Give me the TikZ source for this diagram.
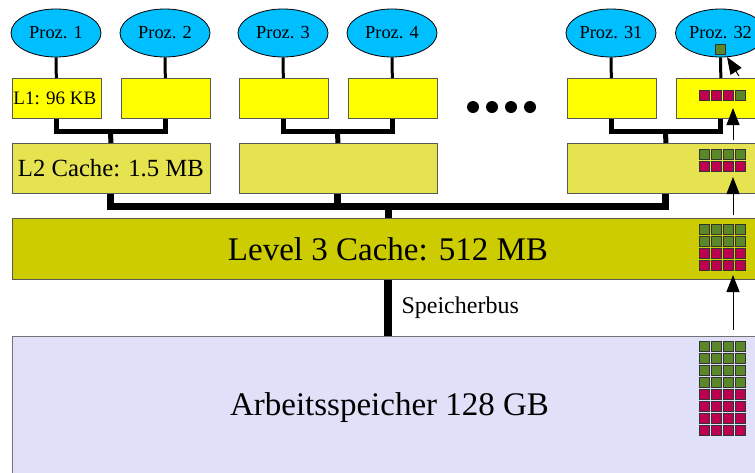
\documentclass[tikz,border=0pt]{standalone}
\usepackage{fontspec}
\setmainfont{Liberation Serif}
\usetikzlibrary{shapes.geometric,arrows.meta}
\definecolor{prozc}{RGB}{0,191,255}
\definecolor{lonec}{RGB}{255,255,0}
\definecolor{ltwoc}{RGB}{230,227,80}
\definecolor{lthreec}{RGB}{204,204,0}
\definecolor{memc}{RGB}{224,224,248}
\definecolor{sqg}{RGB}{90,135,40}
\definecolor{sqr}{RGB}{190,0,80}
\begin{document}
\begin{tikzpicture}[x=1pt,y=-1pt,
  proc/.style={ellipse,draw=black,line width=0.8pt,fill=prozc,minimum width=90pt,minimum height=48pt,inner sep=0pt,font=\fontsize{18.4}{20}\selectfont},
  boxone/.style={draw=black!65,line width=0.8pt,fill=lonec,minimum width=89pt,minimum height=40pt,inner sep=0pt,anchor=north west,font=\fontsize{19}{21}\selectfont},
  boxtwo/.style={draw=black!65,line width=0.8pt,fill=ltwoc,minimum width=198pt,minimum height=50pt,inner sep=0pt,anchor=north west,font=\fontsize{24.7}{27}\selectfont},
  boxthree/.style={draw=black!65,line width=0.8pt,fill=lthreec,minimum width=758pt,minimum height=61pt,inner sep=0pt,anchor=north west,font=\fontsize{33}{36}\selectfont},
  boxmem/.style={draw=black!55,line width=0.8pt,fill=memc,minimum width=758pt,minimum height=150pt,inner sep=0pt,anchor=north west},
  thinconn/.style={line width=3pt,draw=black},
  busone/.style={line width=5pt,draw=black},
  bustwo/.style={line width=7pt,draw=black},
  arr/.style={-{Triangle[length=17pt,width=13pt]},line width=1pt,draw=black},
  sqbox/.style={draw=black!80,line width=0.6pt}
]
\useasboundingbox (0,0) rectangle (755,472);
\clip (0,0) rectangle (755,472);
% processors
\node[proc] (p1) at (56,33) {Proz. 1};
\node[proc] (p2) at (165,33) {Proz. 2};
\node[proc] (p3) at (283,33) {Proz. 3};
\node[proc] (p4) at (392,33) {Proz. 4};
\node[proc] (p5) at (611,33) {Proz. 31};
\node[proc] (p6) at (720.5,33) {Proz. 32};
% L1
\node[boxone] (a1) at (11.5,78) {\hspace*{-3pt}L1: 96 KB};
\node[boxone] (a2) at (120.5,78) {};
\node[boxone] (a3) at (238.5,78) {};
\node[boxone] (a4) at (347.5,78) {};
\node[boxone] (a5) at (566.5,78) {};
\node[boxone] (a6) at (676,78) {};
% L2
\node[boxtwo] (b1) at (11.5,143) {L2 Cache: 1.5 MB};
\node[boxtwo] (b2) at (238.5,143) {};
\node[boxtwo] (b3) at (566.5,143) {};
% L3 and memory
\node[boxthree] (c) at (11.5,218) {\hspace*{-6pt}Level 3 Cache: 512 MB};
\node[boxmem] (m) at (11.5,336) {};
\node[font=\fontsize{33}{36}\selectfont] (mt) at (389.5,408) {Arbeitsspeicher 128 GB};
% dots
\foreach \x in {473,492,511,530} \fill (\x,107) circle (6pt);
% thin connectors
\foreach \i in {1,...,6} \draw[thinconn] (p\i) -- (a\i);
% L1 -> L2
\coordinate (j1) at (110.5,131);
\coordinate (j2) at (337.5,131);
\coordinate (j3) at (665.5,131);
\draw[busone] (a1.south) |- (j1) -| (a2.south);
\draw[busone] (j1) -- (b1.north);
\draw[busone] (a3.south) |- (j2) -| (a4.south);
\draw[busone] (j2) -- (b2.north);
\draw[busone] (a5.south) |- (j3) -| (a6.south);
\draw[busone] (j3) -- (b3.north);
% L2 -> L3
\coordinate (j4) at (388,206);
\draw[bustwo] (b1.south) |- (j4) -| (b3.south);
\draw[bustwo] (b2.south) -- (b2.south |- j4);
\draw[bustwo] (j4) -- (j4 |- c.north);
% Speicherbus
\draw[line width=8pt] (j4 |- c.south) -- (j4 |- m.north);
\node[anchor=west,font=\fontsize{24}{26}\selectfont] (sb) at (398,308) {Speicherbus};
% squares
\foreach \c in {0,...,3} {
  \foreach \r in {0,...,7} {
    \pgfmathsetmacro{\xx}{699+12*\c}
    \pgfmathsetmacro{\yy}{341+12*\r}
    \ifnum\r<4 \filldraw[sqbox,fill=sqg] (\xx,\yy) rectangle ++(10,10);
    \else \filldraw[sqbox,fill=sqr] (\xx,\yy) rectangle ++(10,10); \fi
  }
  \foreach \r in {0,...,3} {
    \pgfmathsetmacro{\xx}{699+12*\c}
    \pgfmathsetmacro{\yy}{224+12*\r}
    \ifnum\r<2 \filldraw[sqbox,fill=sqg] (\xx,\yy) rectangle ++(10,10);
    \else \filldraw[sqbox,fill=sqr] (\xx,\yy) rectangle ++(10,10); \fi
  }
  \pgfmathsetmacro{\xx}{699+12*\c}
  \filldraw[sqbox,fill=sqg] (\xx,149) rectangle ++(10,10);
  \filldraw[sqbox,fill=sqr] (\xx,161) rectangle ++(10,10);
  \ifnum\c<3 \filldraw[sqbox,fill=sqr] (\xx,90) rectangle ++(10,10);
  \else \filldraw[sqbox,fill=sqg] (\xx,90) rectangle ++(10,10); \fi
}
\filldraw[sqbox,fill=sqg] (715,44) rectangle ++(10,10);
% arrows
\coordinate (ar1s) at (733,330); \coordinate (ar1e) at (733,275);
\coordinate (ar2s) at (733,215); \coordinate (ar2e) at (733,177);
\coordinate (ar3s) at (733,140); \coordinate (ar3e) at (733,108);
\coordinate (ar4s) at (739,76); \coordinate (ar4e) at (727,57);
\draw[arr] (ar1s) -- (ar1e);
\draw[arr] (ar2s) -- (ar2e);
\draw[arr] (ar3s) -- (ar3e);
\draw[arr] (ar4s) -- (ar4e);
\end{tikzpicture}
\end{document}
